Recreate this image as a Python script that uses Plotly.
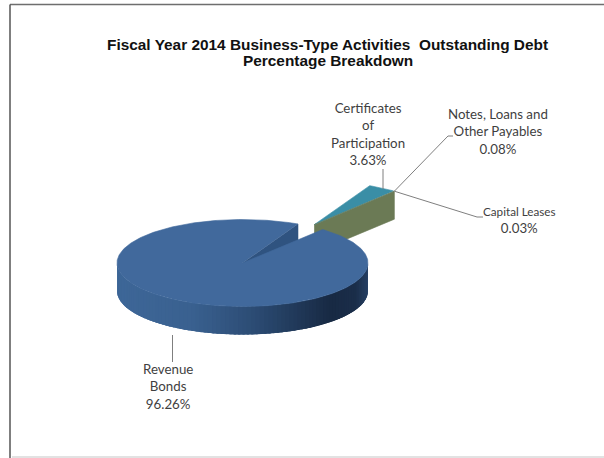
import math
import plotly.graph_objects as go

# ---- data ----
categories = ["Revenue Bonds", "Certificates of Participation",
              "Notes, Loans and Other Payables", "Capital Leases"]
values = [96.26, 3.63, 0.08, 0.03]
label_text = ["Revenue<br>Bonds<br>96.26%", "Certificates<br>of<br>Participation<br>3.63%",
              "Notes, Loans and<br>Other Payables<br>0.08%",
              "<span style='font-size:11.7px'>Capital Leases</span><br>0.03%"]
title_lines = ["Fiscal Year 2014 Business-Type Activities  Outstanding Debt", "Percentage Breakdown"]

# ---- pie projection (pixels of the 604x458 page) ----
CX, CY, RX, RY, DEPTH = 242.5, 263.0, 125.5, 43.5, 28.0
START = 39.7       # clock degrees at which the first slice starts
EXPLODE = 1.05     # pull-out of the small slices, in radii
TOP_BLUE, CUT_BLUE = "#41699c", "#2f5380"
TEAL, OLIVE = "#3a8ea6", "#6b7a55"
LINE = "#7f7f7f"
WALL_STOPS = [(0.0, (62, 103, 152)), (0.30, (58, 97, 144)), (0.55, (44, 76, 116)),
              (0.85, (24, 42, 68)), (0.95, (27, 46, 74)), (1.0, (38, 64, 100))]


def pt(deg, r=1.0, ox=0.0, oy=0.0, drop=0.0):
    a = math.radians(deg)
    return (CX + ox + RX * r * math.sin(a), CY + oy - RY * r * math.cos(a) + drop)


def sweep(a0, a1, n=None, **kw):
    n = n or max(2, int(abs(a1 - a0)) + 2)
    return [pt(a0 + (a1 - a0) * i / (n - 1), **kw) for i in range(n)]


def wall_color(t):
    for (t0, c0), (t1, c1) in zip(WALL_STOPS, WALL_STOPS[1:]):
        if t <= t1:
            f = (t - t0) / (t1 - t0)
            return "rgb(%d,%d,%d)" % tuple(c0[i] + (c1[i] - c0[i]) * f for i in range(3))
    return "rgb(%d,%d,%d)" % WALL_STOPS[-1][1]


fig = go.Figure()


def poly(points, color, name, lw=0.6):
    fig.add_trace(go.Scatter(x=[p[0] for p in points], y=[p[1] for p in points],
                             mode="lines", fill="toself", fillcolor=color, name=name,
                             line=dict(color=color, width=lw), hoverinfo="name",
                             showlegend=False))


# slice angles follow from the values
total = sum(values)
edges = [START]
for v in values:
    edges.append(edges[-1] + 360.0 * v / total)
small0, small1 = edges[1], edges[-1]
mid = math.radians((small0 + small1) / 2)
ox, oy = RX * EXPLODE * math.sin(mid), -RY * EXPLODE * math.cos(mid)

# exploded group: cut face, then top faces
poly([pt(0, 0, ox, oy), pt(small1, 1, ox, oy), pt(small1, 1, ox, oy, DEPTH), pt(0, 0, ox, oy, DEPTH)],
     OLIVE, categories[3])
for i, col in zip([1, 2, 3], [TEAL, "#5a8a86", OLIVE]):
    poly([pt(0, 0, ox, oy)] + sweep(edges[i], edges[i + 1], ox=ox, oy=oy), col, categories[i])

# main slice: cut face, wall (overlapping strips, left to right), top face
rev0, rev1 = edges[0], edges[1]
poly([pt(0, 0), pt(rev1), pt(rev1, drop=DEPTH), pt(0, 0, drop=DEPTH)], CUT_BLUE, categories[0])
for deg in range(268, 88, -2):
    lo = max(deg - 3, 90)
    hi = deg + 2
    seg = sweep(hi, lo, n=4) + sweep(lo, hi, n=4, drop=DEPTH)
    poly(seg, wall_color((pt(deg + 1)[0] - (CX - RX)) / (2 * RX)), categories[0], lw=0)
poly([pt(0, 0)] + sweep(rev0, rev1), TOP_BLUE, categories[0])


# ---- labels and leaders ----
def leader(points):
    fig.add_trace(go.Scatter(x=[p[0] for p in points], y=[p[1] for p in points], mode="lines",
                             line=dict(color=LINE, width=1), hoverinfo="skip", showlegend=False))


corner = pt(small1, 1, ox, oy)
leader([(172.5, 335), (172.5, 362)])
leader([(383, 189), (383, 169)])
leader([corner, (448, 136), (453, 136)])
leader([corner, (477, 217), (483, 217)])

LABEL_FONT = dict(family="Lato", size=13.3, color="#3f3f3f")
for txt, (x, y) in zip(label_text, [(168, 386), (368, 134), (498, 131), (519, 220)]):
    fig.add_annotation(x=x, y=y, text=txt, showarrow=False, align="center", font=LABEL_FONT)
for line, y in zip(title_lines, [44.5, 60]):
    fig.add_annotation(x=327.5, y=y, text="<b>%s</b>" % line, showarrow=False, align="center",
                       font=dict(family="Liberation Sans", size=15.4, color="#111111"))

# chart frame: top and left dark, bottom pale, no right edge on the page
fig.add_shape(type="line", x0=10, y0=4.5, x1=604, y1=4.5, line=dict(color="#6e6e6e", width=1.5), layer="below")
fig.add_shape(type="line", x0=10, y0=4.5, x1=10, y1=458, line=dict(color="#555555", width=1.5), layer="below")
fig.add_shape(type="line", x0=12, y0=457, x1=604, y1=457, line=dict(color="#d9d9d9", width=1.5), layer="below")

fig.update_layout(width=604, height=458, margin=dict(l=0, r=0, t=0, b=0),
                  paper_bgcolor="white", plot_bgcolor="white", showlegend=False,
                  xaxis=dict(range=[0, 604], visible=False, fixedrange=True),
                  yaxis=dict(range=[458, 0], visible=False, fixedrange=True))
fig.write_html("out.html", config=dict(displayModeBar=False),
               post_script="document.body.style.margin='0';document.body.style.overflow='hidden';")
